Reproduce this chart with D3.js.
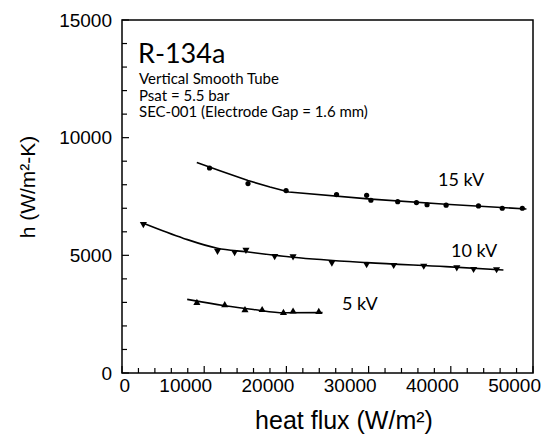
<!DOCTYPE html>
<html>
<head>
<meta charset="utf-8">
<script src="https://cdn.jsdelivr.net/npm/d3@7"></script>
<style>
  body { margin: 0; background: #fff; }
  svg { display: block; }
</style>
</head>
<body>
<svg id="chart" width="547" height="439"></svg>
<script>
const kv15Flux = [10650, 15330, 19960, 26100, 29760, 30280, 33540, 35820, 37110, 39430, 43370, 46260, 48700];
const kv15H = [8710, 8050, 7750, 7580, 7550, 7340, 7280, 7240, 7150, 7130, 7100, 7000, 7000];
const kv10Flux = [2600, 11620, 13700, 15080, 18570, 20810, 25530, 29760, 33050, 36710, 40730, 42770, 45570];
const kv10H = [6330, 5190, 5140, 5230, 4970, 4960, 4690, 4630, 4590, 4560, 4490, 4420, 4410];
const kv5Flux = [9110, 12500, 14960, 17050, 19640, 20810, 23940];
const kv5H = [2975, 2880, 2670, 2677, 2550, 2613, 2593];

// fitted curves
const fit15Flux = [9100, 12000, 15330, 18000, 20300, 30300, 39400, 49200];
const fit15H = [8950, 8580, 8180, 7900, 7690, 7390, 7170, 6970];
const fit10Flux = [2600, 7500, 11600, 15100, 20800, 29800, 39400, 46400];
const fit10H = [6360, 5720, 5300, 5150, 4920, 4690, 4520, 4380];
const fit5Flux = [7930, 12500, 16000, 19700, 24400];
const fit5H = [3130, 2860, 2700, 2560, 2565];

const xTicks = [0, 10000, 20000, 30000, 40000, 50000];
const yTicks = [0, 5000, 10000, 15000];
const seriesLabels = ['15 kV', '10 kV', '5 kV'];
const noteLines = ['Vertical Smooth Tube', 'Psat = 5.5 bar', 'SEC-001 (Electrode Gap = 1.6 mm)'];

const svg = d3.select('#chart');
const margin = { top: 20, right: 14, bottom: 66, left: 122 };
const width = 547 - margin.left - margin.right;
const height = 439 - margin.top - margin.bottom;

const x = d3.scaleLinear().domain([0, 50000]).range([0, width]);
const y = d3.scaleLinear().domain([0, 15000]).range([height, 0]);

const g = svg.append('g').attr('transform', `translate(${margin.left},${margin.top})`);

// minor ticks (inside)
g.append('g')
  .selectAll('line')
  .data(d3.range(0, 50001, 2000))
  .enter()
  .append('line')
  .attr('x1', (d) => x(d)).attr('x2', (d) => x(d))
  .attr('y1', height).attr('y2', (d) => height - (d % 10000 === 0 ? 7 : 5))
  .attr('stroke', '#000').attr('stroke-width', 1.2);

g.append('g')
  .selectAll('line')
  .data(d3.range(0, 15001, 1000))
  .enter()
  .append('line')
  .attr('y1', (d) => y(d)).attr('y2', (d) => y(d))
  .attr('x1', 0).attr('x2', (d) => (d % 5000 === 0 ? 7 : 5))
  .attr('stroke', '#000').attr('stroke-width', 1.2);

// frame
g.append('rect')
  .attr('width', width).attr('height', height)
  .attr('fill', 'none').attr('stroke', '#000').attr('stroke-width', 1.5);

// tick labels
g.append('g')
  .selectAll('text')
  .data(xTicks)
  .enter()
  .append('text')
  .attr('x', (d) => x(d) + 8)
  .attr('y', height + 19)
  .attr('text-anchor', 'end')
  .attr('font-family', 'Liberation Sans, Arial, sans-serif')
  .attr('font-size', 19)
  .text((d) => d);

g.append('g')
  .selectAll('text')
  .data(yTicks)
  .enter()
  .append('text')
  .attr('x', -10)
  .attr('y', (d) => y(d))
  .attr('dy', '0.35em')
  .attr('text-anchor', 'end')
  .attr('font-family', 'Liberation Sans, Arial, sans-serif')
  .attr('font-size', 19)
  .text((d) => d);

// axis titles
svg.append('text')
  .attr('x', 344).attr('y', 429)
  .attr('text-anchor', 'middle')
  .attr('font-family', 'Liberation Sans, Arial, sans-serif')
  .attr('font-size', 25)
  .text('heat flux (W/m²)');

svg.append('text')
  .attr('transform', 'translate(35,187) rotate(-90)')
  .attr('text-anchor', 'middle')
  .attr('font-family', 'Liberation Sans, Arial, sans-serif')
  .attr('font-size', 21)
  .text('h (W/m²-K)');

// fitted curves
const line = d3.line().x((d) => x(d[0])).y((d) => y(d[1]));
const smooth = d3.line().x((d) => x(d[0])).y((d) => y(d[1])).curve(d3.curveMonotoneX);
const fits = [
  { pts: d3.zip(fit15Flux, fit15H), gen: line },
  { pts: d3.zip(fit10Flux, fit10H), gen: smooth },
  { pts: d3.zip(fit5Flux, fit5H), gen: smooth }
];
g.selectAll('.fit')
  .data(fits)
  .enter()
  .append('path')
  .attr('class', 'fit')
  .attr('d', (d) => d.gen(d.pts))
  .attr('fill', 'none')
  .attr('stroke', '#000')
  .attr('stroke-width', 1.6)
  .attr('stroke-linejoin', 'round');

// markers
g.selectAll('.dot15')
  .data(d3.zip(kv15Flux, kv15H))
  .enter()
  .append('circle')
  .attr('cx', (d) => x(d[0]))
  .attr('cy', (d) => y(d[1]))
  .attr('r', 2.6)
  .attr('fill', '#000');

const tri = d3.symbol().type(d3.symbolTriangle).size(22);
g.selectAll('.tri10')
  .data(d3.zip(kv10Flux, kv10H))
  .enter()
  .append('path')
  .attr('d', tri)
  .attr('transform', (d) => `translate(${x(d[0])},${y(d[1])}) rotate(180)`)
  .attr('fill', '#000');

g.selectAll('.tri5')
  .data(d3.zip(kv5Flux, kv5H))
  .enter()
  .append('path')
  .attr('d', tri)
  .attr('transform', (d) => `translate(${x(d[0])},${y(d[1])})`)
  .attr('fill', '#000');

// series labels
const labelFont = 'Lato, "Noto Sans", sans-serif';
const labelPos = [[438, 186], [451, 257], [342, 310]];
svg.selectAll('.slabel')
  .data(seriesLabels)
  .enter()
  .append('text')
  .attr('x', (d, i) => labelPos[i][0])
  .attr('y', (d, i) => labelPos[i][1])
  .attr('font-family', labelFont)
  .attr('font-size', 18)
  .text((d) => d);

// annotation block
svg.append('text')
  .attr('x', 138).attr('y', 63)
  .attr('font-family', labelFont)
  .attr('font-size', 27)
  .text('R-134a');

svg.selectAll('.note')
  .data(noteLines)
  .enter()
  .append('text')
  .attr('x', 139)
  .attr('y', (d, i) => 84 + i * 16.5)
  .attr('font-family', labelFont)
  .attr('font-size', 15)
  .text((d) => d);
</script>
</body>
</html>
